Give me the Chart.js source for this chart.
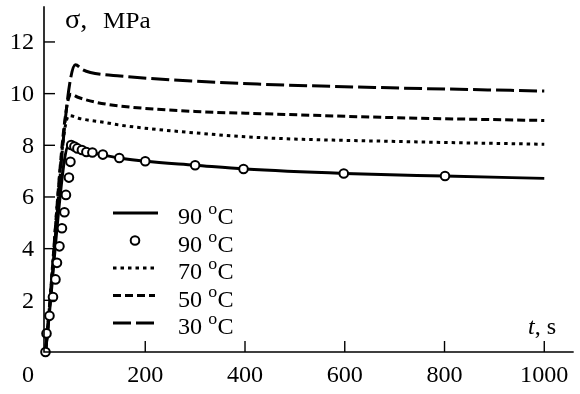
<!DOCTYPE html>
<html>
<head>
<meta charset="utf-8">
<script src="https://cdn.jsdelivr.net/npm/chart.js@4.4.0/dist/chart.umd.min.js"></script>
<style>
  html, body { margin: 0; padding: 0; background: #fff; }
</style>
</head>
<body>
<canvas id="chart" width="580" height="394"></canvas>
<script>
// stress relaxation: sigma (MPa) against time (s) at several temperatures
const t30 = [0, 60, 75, 90, 150, 300, 425, 660, 1000];
const s30 = [0, 11.12, 10.92, 10.82, 10.68, 10.48, 10.37, 10.24, 10.1];

const t50 = [0, 51, 65, 100, 150, 300, 440, 700, 1000];
const s50 = [0, 9.98, 9.86, 9.67, 9.52, 9.31, 9.22, 9.07, 8.96];

const t70 = [0, 47, 70, 120, 150, 300, 440, 700, 1000];
const s70 = [0, 9.15, 9.03, 8.88, 8.78, 8.48, 8.29, 8.15, 8.04];

const t90 = [0, 48, 55, 65, 80, 100, 150, 200, 300, 400, 600, 800, 1000];
const s90 = [0, 8.05, 7.96, 7.88, 7.76, 7.68, 7.5, 7.38, 7.23, 7.08, 6.91, 6.81, 6.72];

// measured points at 90 C
const tExp = [0, 2, 8, 15, 20, 23, 28, 33, 38, 41, 47, 50, 51.5, 58, 64, 73, 82, 94, 115, 148, 200, 300, 397, 598, 801];
const sExp = [0, 0.72, 1.4, 2.13, 2.81, 3.45, 4.09, 4.79, 5.41, 6.08, 6.75, 7.36, 8.01, 7.95, 7.88, 7.82, 7.74, 7.72, 7.64, 7.51, 7.38, 7.23, 7.08, 6.91, 6.81];

const legendTemps = ['90', '90', '70', '50', '30'];
const xTicks = [200, 400, 600, 800, 1000];
const yTicks = [2, 4, 6, 8, 10, 12];

const pts = (ts, ss) => ts.map((t, i) => ({ x: t, y: ss[i] }));

const FONT = '23px "Liberation Serif", "Times New Roman", serif';
const SX = 1.05; // the lettering runs a little wide

function txt(ctx, s, x, y, align, font) {
  ctx.save();
  ctx.font = font || FONT;
  ctx.translate(x, y);
  ctx.scale(SX, 1);
  ctx.textAlign = align || 'left';
  ctx.textBaseline = 'alphabetic';
  ctx.fillText(s, 0, 0);
  const w = ctx.measureText(s).width * SX;
  ctx.restore();
  return w;
}

const lineSet = (label, data, dash) => ({
  label: label,
  data: data,
  borderColor: '#000',
  borderWidth: 3,
  borderDash: dash,
  pointRadius: 0,
  cubicInterpolationMode: 'monotone',
  fill: false,
  clip: false,
  order: 1
});

const axesPlugin = {
  id: 'axesPlugin',
  afterDraw(chart) {
    const ctx = chart.ctx;
    const a = chart.chartArea;
    const xs = chart.scales.x, ys = chart.scales.y;
    ctx.save();
    ctx.strokeStyle = '#000';
    ctx.fillStyle = '#000';
    ctx.lineWidth = 1.6;
    ctx.setLineDash([]);
    ctx.beginPath();
    ctx.moveTo(a.left, a.top);
    ctx.lineTo(a.left, a.bottom);
    ctx.lineTo(a.right, a.bottom);
    ctx.stroke();

    ctx.lineWidth = 1.4;
    yTicks.forEach(v => {
      const y = ys.getPixelForValue(v);
      ctx.beginPath();
      ctx.moveTo(a.left, y);
      ctx.lineTo(a.left + 11, y);
      ctx.stroke();
      txt(ctx, String(v), a.left - 10, y + 7.5, 'right');
    });
    xTicks.forEach(v => {
      const x = xs.getPixelForValue(v);
      ctx.beginPath();
      ctx.moveTo(x, a.bottom);
      ctx.lineTo(x, a.bottom - 11);
      ctx.stroke();
      txt(ctx, String(v), x, a.bottom + 30, 'center');
    });
    txt(ctx, '0', 28, a.bottom + 30, 'center');

    // axis titles
    txt(ctx, 'σ,', 65, 28, 'left', '27px "Liberation Serif", serif');
    txt(ctx, 'MPa', 103, 28, 'left', '24px "Liberation Serif", serif');
    let w = txt(ctx, 't', 528, 334, 'left', 'italic ' + FONT);
    txt(ctx, ', s', 528 + w, 334, 'left');

    // legend
    const ds = chart.data.datasets;
    ds.forEach((d, i) => {
      const y = 213 + i * 27.5;
      if (d.showLine === false) {
        ctx.beginPath();
        ctx.arc(135, y, d.pointRadius, 0, Math.PI * 2);
        ctx.fillStyle = '#fff';
        ctx.fill();
        ctx.lineWidth = d.pointBorderWidth;
        ctx.setLineDash([]);
        ctx.stroke();
        ctx.fillStyle = '#000';
      } else {
        ctx.lineWidth = d.borderWidth;
        ctx.setLineDash(d.borderDash || []);
        ctx.beginPath();
        ctx.moveTo(113, y);
        ctx.lineTo(i === 0 ? 158 : 155, y);
        ctx.stroke();
        ctx.setLineDash([]);
      }
      let x = 178;
      x += txt(ctx, legendTemps[i] + ' ', x, y + 11, 'left');
      x += txt(ctx, 'o', x, y + 1, 'left', '17px "Liberation Serif", serif');
      txt(ctx, 'C', x + 0.5, y + 11, 'left');
    });
    ctx.restore();
  }
};

new Chart(document.getElementById('chart'), {
  type: 'line',
  data: {
    datasets: [
      lineSet('90 °C', pts(t90, s90), []),
      {
        label: '90 °C',
        data: pts(tExp, sExp),
        showLine: false,
        pointRadius: 4.3,
        pointBorderWidth: 2,
        pointBorderColor: '#000',
        pointBackgroundColor: '#fff',
        clip: false,
        order: 0
      },
      lineSet('70 °C', pts(t70, s70), [3.5, 4]),
      lineSet('50 °C', pts(t50, s50), [8, 4]),
      lineSet('30 °C', pts(t30, s30), [18, 5])
    ]
  },
  options: {
    responsive: false,
    devicePixelRatio: 1,
    animation: false,
    layout: { padding: { left: 44, right: 0, top: 4, bottom: 42 } },
    scales: {
      x: { type: 'linear', min: -3, max: 1059, display: false },
      y: { type: 'linear', min: 0, max: 13.38, display: false }
    },
    plugins: {
      legend: { display: false },
      tooltip: { enabled: false }
    }
  },
  plugins: [axesPlugin]
});
</script>
</body>
</html>
